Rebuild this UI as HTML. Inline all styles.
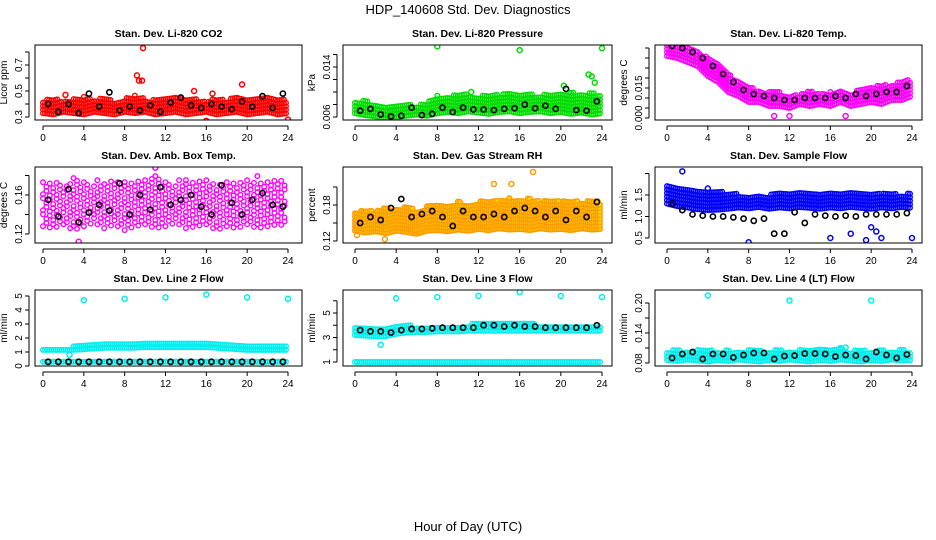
<!DOCTYPE html>
<html><head><meta charset="utf-8"><style>
body{margin:0;background:#fff;}
svg{display:block;font-family:"Liberation Sans",sans-serif;}
</style></head><body>
<svg id="c" width="936" height="540">
<text x="468" y="14" text-anchor="middle" font-size="13">HDP_140608  Std. Dev. Diagnostics</text>
<text x="468" y="531" text-anchor="middle" font-size="13">Hour of Day (UTC)</text>
</svg>
<script>
// ---- data (hourly band limits, half-hour black points, outliers) ----
const hours=[0,1,2,3,4,5,6,7,8,9,10,11,12,13,14,15,16,17,18,19,20,21,22,23,24];
const xTicks=[0,4,8,12,16,20,24];
const co2Lo=[0.33,0.32,0.34,0.33,0.32,0.34,0.33,0.32,0.34,0.33,0.34,0.32,0.33,0.34,0.32,0.33,0.34,0.32,0.33,0.34,0.32,0.33,0.34,0.32,0.33];
const co2Hi=[0.43,0.45,0.42,0.44,0.46,0.43,0.45,0.42,0.44,0.47,0.44,0.43,0.45,0.46,0.43,0.44,0.42,0.45,0.43,0.46,0.45,0.44,0.47,0.44,0.43];
const co2Blk=[0.40,0.34,0.40,0.33,0.48,0.38,0.49,0.35,0.38,0.35,0.39,0.34,0.41,0.45,0.39,0.37,0.40,0.38,0.36,0.42,0.38,0.46,0.37,0.48];
const co2Ox=[9.8,9.2,9.4,9.7,19.5,14.8,16,24,2.2,16.6];
const co2Oy=[0.83,0.62,0.58,0.58,0.55,0.50,0.27,0.28,0.47,0.48];
const prLo=[0.0066,0.0063,0.0061,0.0058,0.0060,0.0062,0.0064,0.0062,0.0066,0.0068,0.0066,0.0069,0.0067,0.0065,0.0068,0.0069,0.0066,0.0068,0.0069,0.0066,0.0068,0.0065,0.0067,0.0064,0.0066];
const prHi=[0.0085,0.0087,0.0078,0.0080,0.0077,0.0081,0.0079,0.0083,0.0094,0.0092,0.0099,0.0096,0.0093,0.0098,0.0095,0.0099,0.0094,0.0097,0.0095,0.0099,0.0096,0.0100,0.0097,0.0099,0.0096];
const prBlk=[0.0070,0.0073,0.0064,0.0061,0.0062,0.0075,0.0063,0.0065,0.0075,0.0068,0.0075,0.0072,0.0072,0.0071,0.0073,0.0074,0.0080,0.0074,0.0078,0.0073,0.0105,0.0071,0.0070,0.0085];
const prOx=[8,16,24,22.7,23,23.3,20.3,11.3];
const prOy=[0.0173,0.0167,0.0170,0.0128,0.0125,0.0115,0.0110,0.0100];
const tmLo=[0.031,0.030,0.028,0.026,0.021,0.018,0.013,0.011,0.008,0.008,0.006,0.006,0.005,0.007,0.006,0.007,0.006,0.008,0.006,0.007,0.008,0.007,0.009,0.009,0.011];
const tmHi=[0.038,0.037,0.036,0.034,0.030,0.027,0.022,0.019,0.016,0.014,0.013,0.013,0.011,0.012,0.014,0.012,0.013,0.014,0.012,0.015,0.015,0.017,0.016,0.019,0.019];
const tmBlk=[0.036,0.035,0.033,0.030,0.026,0.022,0.018,0.014,0.012,0.011,0.010,0.009,0.009,0.010,0.010,0.010,0.011,0.010,0.012,0.011,0.012,0.013,0.013,0.016];
const tmOx=[10.5,12,17.5];
const tmOy=[0.001,0.001,0.001];
const abLo=[0.128,0.126,0.130,0.124,0.128,0.132,0.126,0.130,0.124,0.128,0.130,0.126,0.128,0.132,0.126,0.128,0.130,0.124,0.128,0.126,0.130,0.126,0.128,0.130,0.128];
const abHi=[0.170,0.175,0.168,0.176,0.172,0.170,0.174,0.172,0.176,0.170,0.174,0.178,0.172,0.170,0.176,0.172,0.174,0.170,0.176,0.172,0.174,0.176,0.170,0.174,0.172];
const abBlk=[0.155,0.138,0.166,0.132,0.142,0.150,0.144,0.172,0.140,0.160,0.145,0.168,0.150,0.155,0.160,0.148,0.140,0.170,0.152,0.140,0.155,0.162,0.150,0.148];
const abOx=[3.5,11];
const abOy=[0.112,0.188];
const rhLo=[0.137,0.134,0.136,0.133,0.137,0.135,0.132,0.137,0.138,0.136,0.139,0.137,0.140,0.138,0.141,0.139,0.140,0.138,0.141,0.139,0.140,0.138,0.141,0.139,0.140];
const rhHi=[0.168,0.172,0.170,0.176,0.174,0.178,0.172,0.178,0.182,0.180,0.186,0.183,0.186,0.190,0.187,0.192,0.188,0.192,0.186,0.190,0.186,0.190,0.185,0.188,0.186];
const rhBlk=[0.150,0.160,0.155,0.175,0.190,0.160,0.165,0.170,0.160,0.145,0.170,0.160,0.160,0.165,0.160,0.170,0.175,0.170,0.160,0.170,0.155,0.170,0.160,0.185];
const rhOx=[17.3,13.5,15.2,2.9,0.2];
const rhOy=[0.235,0.215,0.215,0.123,0.130];
const sfLo=[1.30,1.24,1.21,1.17,1.15,1.16,1.18,1.21,1.19,1.22,1.18,1.21,1.19,1.22,1.20,1.18,1.21,1.19,1.22,1.20,1.18,1.21,1.19,1.22,1.20];
const sfHi=[1.75,1.72,1.64,1.62,1.58,1.60,1.54,1.53,1.50,1.52,1.50,1.56,1.53,1.57,1.54,1.52,1.56,1.53,1.57,1.54,1.56,1.53,1.55,1.52,1.55];
const sfBlk=[1.30,1.15,1.05,1.02,1.00,1.00,0.98,0.95,0.90,0.95,0.60,0.60,1.10,0.85,1.05,1.02,1.00,1.02,1.00,1.05,1.05,1.05,1.05,1.08];
const sfOx=[1.5,8,16,18,19.5,20,20.5,21,24,4];
const sfOy=[2.05,0.40,0.50,0.60,0.45,0.75,0.65,0.50,0.50,1.65];
const l2Lo=[1.15,1.15,1.15,1.15,1.20,1.25,1.30,1.30,1.30,1.30,1.35,1.35,1.35,1.35,1.35,1.35,1.35,1.30,1.25,1.20,1.15,1.15,1.15,1.15,1.15];
const l2Hi=[1.35,1.35,1.35,1.40,1.45,1.50,1.55,1.55,1.55,1.60,1.65,1.65,1.65,1.65,1.70,1.70,1.70,1.65,1.55,1.50,1.45,1.40,1.40,1.40,1.40];
const l2Blk=[0.30,0.30,0.30,0.30,0.30,0.30,0.30,0.30,0.30,0.30,0.30,0.30,0.30,0.30,0.30,0.30,0.30,0.30,0.30,0.30,0.30,0.30,0.30,0.30];
const l2Ox=[4,8,12,16,20,24,2.6];
const l2Oy=[4.70,4.80,4.90,5.10,4.90,4.80,0.80];
const l3Lo=[3.20,3.15,3.10,3.10,3.30,3.40,3.45,3.45,3.50,3.50,3.50,3.55,3.55,3.55,3.55,3.55,3.55,3.55,3.55,3.55,3.55,3.55,3.55,3.55,3.55];
const l3Hi=[3.90,3.85,3.80,3.80,3.90,4.00,4.00,4.00,4.05,4.05,4.05,4.10,4.20,4.20,4.20,4.20,4.15,4.15,4.10,4.10,4.10,4.10,4.10,4.10,4.10];
const l3Blk=[3.60,3.50,3.50,3.40,3.60,3.70,3.70,3.75,3.80,3.80,3.80,3.80,4.00,4.00,3.90,4.00,3.90,3.90,3.80,3.80,3.80,3.80,3.80,4.00];
const l3Ox=[4,8,12,16,20,24,2.5];
const l3Oy=[6.20,6.30,6.40,6.70,6.40,6.30,2.40];
const l4Lo=[0.086,0.084,0.087,0.085,0.083,0.086,0.084,0.087,0.085,0.083,0.086,0.084,0.087,0.085,0.083,0.086,0.084,0.087,0.085,0.083,0.086,0.084,0.087,0.085,0.086];
const l4Hi=[0.104,0.107,0.103,0.106,0.108,0.104,0.106,0.103,0.107,0.105,0.104,0.107,0.103,0.106,0.104,0.107,0.105,0.109,0.104,0.107,0.103,0.106,0.105,0.107,0.104];
const l4Blk=[0.090,0.098,0.102,0.088,0.098,0.098,0.091,0.096,0.100,0.100,0.088,0.094,0.095,0.099,0.099,0.098,0.093,0.096,0.095,0.088,0.102,0.096,0.090,0.097];
const l4Ox=[4,12,20,17,17.5];
const l4Oy=[0.215,0.205,0.205,0.110,0.111];

const NS="http://www.w3.org/2000/svg";
const svg=document.getElementById('c');
function mk(tag,attrs,parent){const e=document.createElementNS(NS,tag);for(const k in attrs)e.setAttribute(k,attrs[k]);(parent||svg).appendChild(e);return e;}

const panels=[
 {id:'co2',title:'Stan. Dev. Li-820 CO2',yl:'Licor ppm',bx:[35,302],by:[45,120],xm:[43,288],ym:[0.3,117,0.7,65],yt:[0.3,0.4,0.5,0.6,0.7,0.8],ylab:{0.3:'0.3',0.5:'0.5',0.7:'0.7'},col:'#ff0000',lo:co2Lo,hi:co2Hi,blk:co2Blk,ox:co2Ox,oy:co2Oy},
 {id:'pressure',title:'Stan. Dev. Li-820 Pressure',yl:'kPa',bx:[343,612],by:[45,120],xm:[355,602],ym:[0.006,117,0.014,67],yt:[0.006,0.008,0.010,0.012,0.014,0.016],ylab:{0.006:'0.006',0.014:'0.014'},col:'#00dd00',lo:prLo,hi:prHi,blk:prBlk,ox:prOx,oy:prOy},
 {id:'temp',title:'Stan. Dev. Li-820 Temp.',yl:'degrees C',bx:[655,922],by:[45,120],xm:[667,912],ym:[0,118,0.015,88],yt:[0,0.005,0.010,0.015,0.020,0.025,0.030,0.035],ylab:{0:'0.000',0.015:'0.015'},col:'#ff00ff',lo:tmLo,hi:tmHi,blk:tmBlk,ox:tmOx,oy:tmOy},
 {id:'ambbox',title:'Stan. Dev. Amb. Box Temp.',yl:'degrees C',bx:[35,302],by:[167,243],xm:[43,288],ym:[0.12,234,0.16,195],yt:[0.12,0.14,0.16,0.18],ylab:{0.12:'0.12',0.16:'0.16'},col:'#ff00ff',lo:abLo,hi:abHi,blk:abBlk,ox:abOx,oy:abOy,sparse:true},
 {id:'rh',title:'Stan. Dev. Gas Stream RH',yl:'percent',bx:[343,612],by:[167,243],xm:[355,602],ym:[0.12,241,0.18,205],yt:[0.12,0.15,0.18,0.21],ylab:{0.12:'0.12',0.18:'0.18'},col:'#ff9900',fill:'#ffdd00',lo:rhLo,hi:rhHi,blk:rhBlk,ox:rhOx,oy:rhOy},
 {id:'sampleflow',title:'Stan. Dev. Sample Flow',yl:'ml/min',bx:[655,922],by:[167,243],xm:[667,912],ym:[0.5,238,1.5,195],yt:[0.5,1.0,1.5,2.0],ylab:{0.5:'0.5',1.0:'1.0',1.5:'1.5'},col:'#0000ff',lo:sfLo,hi:sfHi,blk:sfBlk,ox:sfOx,oy:sfOy},
 {id:'line2',title:'Stan. Dev. Line 2 Flow',yl:'ml/min',bx:[35,302],by:[290,366],xm:[43,288],ym:[0,366,5,296],yt:[0,1,2,3,4,5],ylab:{0:'0',1:'1',2:'2',3:'3',4:'4',5:'5'},col:'#00eeee',lo:l2Lo,hi:l2Hi,blk:l2Blk,ox:l2Ox,oy:l2Oy,base:0.30},
 {id:'line3',title:'Stan. Dev. Line 3 Flow',yl:'ml/min',bx:[343,612],by:[290,366],xm:[355,602],ym:[1,362,5,313],yt:[1,2,3,4,5,6],ylab:{1:'1',3:'3',5:'5'},col:'#00eeee',lo:l3Lo,hi:l3Hi,blk:l3Blk,ox:l3Ox,oy:l3Oy,base:1.0},
 {id:'line4',title:'Stan. Dev. Line 4 (LT) Flow',yl:'ml/min',bx:[655,922],by:[290,366],xm:[667,912],ym:[0.08,363,0.20,303],yt:[0.08,0.11,0.14,0.17,0.20],ylab:{0.08:'0.08',0.14:'0.14',0.20:'0.20'},col:'#00eeee',lo:l4Lo,hi:l4Hi,blk:l4Blk,ox:l4Ox,oy:l4Oy}
];

panels.forEach(p=>{
 const X=v=>p.xm[0]+(p.xm[1]-p.xm[0])*v/24;
 const Y=v=>p.ym[1]+(p.ym[3]-p.ym[1])*(v-p.ym[0])/(p.ym[2]-p.ym[0]);
 const g=mk('g',{});
 
 
 const cx=(p.bx[0]+p.bx[1])/2;
 const t=mk('text',{x:cx,y:p.by[0]-8,'text-anchor':'middle','font-size':10.5,'font-weight':'bold'},g);
 t.textContent=p.title;
 
 
 const clip=mk('clipPath',{id:'cl'+p.id},g);
 mk('rect',{x:p.bx[0],y:p.by[0],width:p.bx[1]-p.bx[0],height:p.by[1]-p.by[0]},clip);
 const pts=mk('g',{'clip-path':'url(#cl'+p.id+')'},g);
 
 
 const fill=p.fill||'none';
 const yStep=p.sparse?8:3.5;
 const nsub=p.sparse?3:5;
 for(let i=0;i<hours.length-1;i++){
  for(let s=0;s<nsub;s++){
   const f=s/nsub,h=hours[i]+f;
   const lo=p.lo[i]+(p.lo[i+1]-p.lo[i])*f, hi=p.hi[i]+(p.hi[i+1]-p.hi[i])*f;
   const y1=Y(lo),y2=Y(hi);
   let k=0;
   for(let yy=y1;yy>=y2;yy-=yStep){
    const off=(p.sparse&&(k+s+i)%2)?yStep/2:0;k++;
    const c=mk('circle',{cx:X(h),cy:yy-off,r:2.3,fill:fill,stroke:p.col,'stroke-width':1.4},pts);
    
    
   }
  }
  if(p.base!==undefined){
   for(let s=0;s<5;s++){
    const c=mk('circle',{cx:X(hours[i]+s*0.2),cy:Y(p.base),r:2.3,fill:'none',stroke:p.col,'stroke-width':1.4},pts);
    
    
   }
  }
 }
 p.ox.forEach((v,i)=>{
  const c=mk('circle',{cx:X(v),cy:Y(p.oy[i]),r:2.5,fill:'none',stroke:p.col,'stroke-width':1.5},pts);
  
  
 });
 p.blk.forEach((v,i)=>{
  const c=mk('circle',{cx:X(i+0.5),cy:Y(v),r:2.6,fill:'none',stroke:'#000','stroke-width':1.6},pts);
  
  
 });
 const box=mk('rect',{x:p.bx[0],y:p.by[0],width:p.bx[1]-p.bx[0],height:p.by[1]-p.by[0],fill:'none',stroke:'#000','stroke-width':1},g);
 
 
 const xa=mk('g',{},g);
 
 
 const ab=p.by[1]+6;
 mk('line',{x1:X(0),x2:X(24),y1:ab,y2:ab,stroke:'#000'},xa);
 xTicks.forEach(v=>{
  mk('line',{x1:X(v),x2:X(v),y1:ab,y2:ab+4,stroke:'#000'},xa);
  const tl=mk('text',{x:X(v),y:ab+15,'text-anchor':'middle','font-size':10},xa);
  tl.textContent=v;
 });
 const ya=mk('g',{},g);
 
 
 const ax=p.bx[0]-6;
 const ys=p.yt.map(Y).filter(y=>y>=p.by[0]-2&&y<=p.by[1]+2);
 mk('line',{x1:ax,x2:ax,y1:Math.min(...ys),y2:Math.max(...ys),stroke:'#000'},ya);
 p.yt.forEach(v=>{
  const y=Y(v); if(y<p.by[0]-2||y>p.by[1]+2)return;
  mk('line',{x1:ax-4,x2:ax,y1:y,y2:y,stroke:'#000'},ya);
  if(p.ylab[v]!==undefined){
   const tl=mk('text',{x:ax-7,y:y,'text-anchor':'middle','font-size':10,transform:`rotate(-90 ${ax-7} ${y})`},ya);
   tl.textContent=p.ylab[v];
  }
 });
 const cy=(p.by[0]+p.by[1])/2;
 const yl=mk('text',{x:ax-22,y:cy,'text-anchor':'middle','font-size':10,transform:`rotate(-90 ${ax-22} ${cy})`},g);
 yl.textContent=p.yl;
 
 
});
</script>
</body></html>
